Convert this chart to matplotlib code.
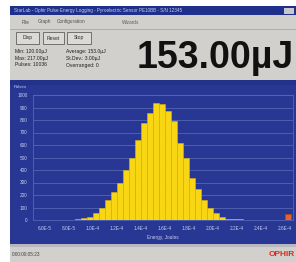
import matplotlib
matplotlib.use("Agg")
import matplotlib.pyplot as plt
from matplotlib.patches import Rectangle

# ---------------- data ----------------
bin_left_uj = [80, 85, 90, 95, 100, 105, 110, 115, 120, 125, 130, 135, 140, 145,
               150, 155, 160, 165, 170, 175, 180, 185, 190, 195, 200, 205, 210,
               215, 220, 225, 230]
pulse_counts = [3, 8, 15, 25, 56, 96, 160, 224, 300, 400, 500, 640, 780, 860,
                935, 930, 870, 790, 620, 500, 340, 250, 160, 96, 56, 24, 12,
                8, 5, 3, 2]
overrange_bin_uj = [260]
overrange_counts = [45]
bin_width_uj = 5

x_ticks_uj = [60, 80, 100, 120, 140, 160, 180, 200, 220, 240, 260]
x_tick_labels = ["6.0E-5", "8.0E-5", "1.0E-4", "1.2E-4", "1.4E-4", "1.6E-4",
                 "1.8E-4", "2.0E-4", "2.2E-4", "2.4E-4", "2.6E-4"]
y_ticks = [0, 100, 200, 300, 400, 500, 600, 700, 800, 900, 1000]
y_tick_labels = ["0", "100", "200", "300", "400", "500", "600", "700", "800", "900", "1000"]

reading_text = "153.00µJ"
stats_col1 = ["Min: 120.00µJ", "Max: 217.00µJ", "Pulses: 10036"]
stats_col2 = ["Average: 153.0µJ", "St.Dev.: 3.00µJ", "Overranged: 0"]
buttons = ["Disp", "Reset", "Stop"]
title_text = "StarLab - Ophir Pulse Energy Logging - Pyroelectric Sensor PE10BB - S/N 12345"
menu_items = ["File", "Graph", "Configuration"]
status_text = "0:00:00:05:23"

# ---------------- figure ----------------
W, H = 296, 262
fig = plt.figure(figsize=(W / 100, H / 100), dpi=100)
fig.patch.set_facecolor("white")
plt.rcParams["font.family"] = ["Liberation Sans", "DejaVu Sans"]

bg = fig.add_axes([0, 0, 1, 1])
bg.set_xlim(0, W)
bg.set_ylim(H, 0)
bg.axis("off")

GRAY = "#d2d0cc"
BLUE = "#283694"
TITLE_BLUE = "#1f2f8c"


def rect(x0, y0, x1, y1, fc, ec="none", lw=0, z=1):
    bg.add_patch(Rectangle((x0, y0), x1 - x0, y1 - y0, facecolor=fc,
                           edgecolor=ec, linewidth=lw, zorder=z))


# window body
rect(10, 6, W, H, GRAY)
# title bar
rect(10, 6, W, 15, TITLE_BLUE, z=2)
bg.text(14, 10.5, title_text, fontsize=3.3, color="#c8d0f0", va="center", ha="left", zorder=3)
rect(284, 7.5, 294, 13.5, "#c8c8c8", z=3)
# menu bar
for x, t in zip([22, 38, 57], menu_items):
    bg.text(x, 22, t, fontsize=3.4, color="#505050", va="center", ha="left", zorder=3)
bg.text(122, 22, "Wizards", fontsize=3.4, color="#606060", va="center", zorder=3)
bg.plot([10, W], [28.5, 28.5], color="#a8a8a8", lw=0.6, zorder=3)
# buttons
for (x0, x1), t in zip([(16, 39), (43, 64), (67, 91)], buttons):
    rect(x0, 32, x1, 44, "#dcdad6", ec="#606060", lw=0.6, z=3)
    bg.text((x0 + x1) / 2, 38, t, fontsize=3.6, color="#303030", ha="center", va="center", zorder=4)
# stats
for i, (a, b) in enumerate(zip(stats_col1, stats_col2)):
    y = 52 + i * 6.5
    bg.text(15, y, a, fontsize=3.6, color="#202020", va="center", zorder=4)
    bg.text(66, y, b, fontsize=3.6, color="#202020", va="center", zorder=4)
# big reading
bg.text(215, 58, reading_text, fontsize=27, fontweight="bold", color="#111111",
        ha="center", va="center", zorder=4)
# chart panel
rect(10, 80, W, 244, BLUE, z=2)
rect(10, 80, W, 85, "#24318a", z=2)
bg.text(14, 86.5, "Pulses", fontsize=3.2, color="#c8d0f0", va="center", zorder=3)
rect(10, 244, W, 247, "#b8b8c0", z=2)
# status bar
bg.text(12, 254, status_text, fontsize=3.4, color="#404040", va="center", zorder=3)
bg.text(295, 254, "OPHIR", fontsize=6, fontweight="bold", color="#e02818",
        ha="right", va="center", zorder=3)

# ---------------- histogram axes ----------------
ax = fig.add_axes([33 / W, (H - 220) / H, 260 / W, 125 / H])
ax.set_facecolor(BLUE)
ax.set_zorder(5)
ax.bar(bin_left_uj, pulse_counts, width=bin_width_uj, align="edge",
       color="#f9d614", edgecolor="#e0b400", linewidth=0.4, zorder=3)
ax.bar(overrange_bin_uj, overrange_counts, width=bin_width_uj, align="edge",
       color="#e8602a", edgecolor="#c04010", linewidth=0.5, zorder=3)
ax.set_xlim(50, 267)
ax.set_ylim(0, 1000)
ax.set_yticks(y_ticks)
ax.set_yticklabels(y_tick_labels)
ax.set_xticks(x_ticks_uj)
ax.set_xticklabels(x_tick_labels)
ax.grid(axis="y", color="#5565b4", linewidth=0.6, zorder=1)
ax.tick_params(length=0, labelsize=3.4, labelcolor="#c8d0f0", pad=4)
for s in ax.spines.values():
    s.set_color("#5565b4")
    s.set_linewidth(0.6)
ax.set_xlabel("Energy, Joules", fontsize=3.4, color="#c8d0f0", labelpad=3)

fig.savefig("out.png", dpi=100, facecolor="white")
